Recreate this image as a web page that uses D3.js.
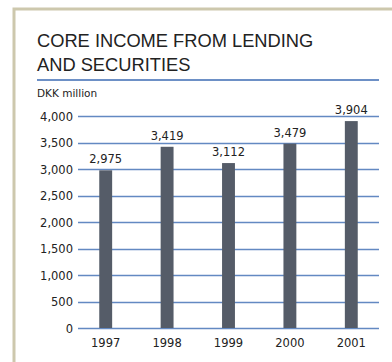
<!DOCTYPE html>
<html><head><meta charset="utf-8">
<script src="https://cdn.jsdelivr.net/npm/d3@7"></script>
<style>body{margin:0;background:#fff}svg{display:block}</style>
</head><body>
<svg id="c" width="392" height="362"></svg>
<script>
const titleLines = ["CORE INCOME FROM LENDING", "AND SECURITIES"];
const unitLabel = "DKK million";
const years = ["1997", "1998", "1999", "2000", "2001"];
const values = [2975, 3419, 3112, 3479, 3904];
const yTicks = [0, 500, 1000, 1500, 2000, 2500, 3000, 3500, 4000];

const svg = d3.select("#c");
const font = "'DejaVu Sans', Verdana, sans-serif";

// frame
svg.append("path").attr("d", "M14,362 L14,9 L392,9")
  .attr("fill", "none").attr("stroke", "#cdc8ad").attr("stroke-width", 3);

// title
svg.append("g").selectAll("text").data(titleLines).join("text")
  .attr("x", 37).attr("y", (d, i) => 47 + i * 24)
  .attr("font-family", "'Liberation Sans', Arial, sans-serif")
  .attr("font-size", 18.3).attr("fill", "#222").text(d => d);

svg.append("line").attr("x1", 37).attr("x2", 379).attr("y1", 80).attr("y2", 80)
  .attr("stroke", "#6d90c6").attr("stroke-width", 2);

svg.append("text").attr("x", 37).attr("y", 97)
  .attr("font-family", font).attr("font-size", 10.5).attr("fill", "#222").text(unitLabel);

const y = d3.scaleLinear().domain([0, 4000]).range([328, 116]);
const x = d3.scaleBand().domain(years).range([75, 382]).paddingInner(0.79).paddingOuter(0.395);

const grid = svg.append("g");
grid.selectAll("line").data(yTicks).join("line")
  .attr("x1", 78).attr("x2", 379)
  .attr("y1", d => Math.round(y(d)) + 0.5).attr("y2", d => Math.round(y(d)) + 0.5)
  .attr("stroke", "#6389c2").attr("stroke-width", 1.6);

svg.append("g").selectAll("text").data(yTicks).join("text")
  .attr("x", 73).attr("y", d => y(d) + 4.5).attr("text-anchor", "end")
  .attr("font-family", font).attr("font-size", 11.5).attr("fill", "#222")
  .text(d => d3.format(",")(d));

svg.append("g").selectAll("rect").data(values).join("rect")
  .attr("x", (d, i) => x(years[i])).attr("width", x.bandwidth())
  .attr("y", d => y(d)).attr("height", d => y(0) - y(d))
  .attr("fill", "#555c68");

svg.append("g").selectAll("text").data(values).join("text")
  .attr("x", (d, i) => x(years[i]) + x.bandwidth() / 2).attr("y", d => y(d) - 7)
  .attr("text-anchor", "middle")
  .attr("font-family", font).attr("font-size", 11.5).attr("fill", "#222")
  .text(d => d3.format(",")(d));

svg.append("g").selectAll("text").data(years).join("text")
  .attr("x", d => x(d) + x.bandwidth() / 2).attr("y", 347)
  .attr("text-anchor", "middle")
  .attr("font-family", font).attr("font-size", 11.5).attr("fill", "#222")
  .text(d => d);
</script>
</body></html>
